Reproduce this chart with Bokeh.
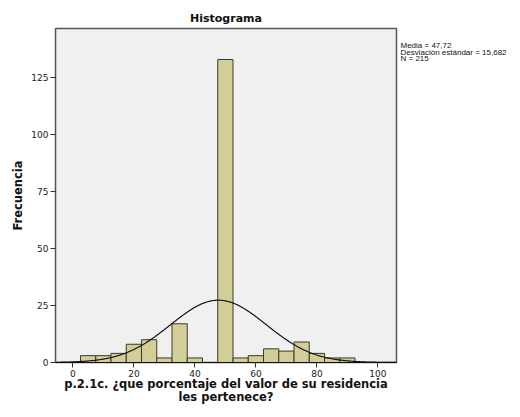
import numpy as np
from bokeh.plotting import figure
from bokeh.models import Range1d, FixedTicker, ColumnDataSource, LinearAxis
from bokeh.embed import file_html
from bokeh.resources import INLINE

# Data
bin_centers = [5, 10, 15, 20, 25, 30, 35, 40, 45, 50, 55, 60, 65, 70, 75, 80, 85, 90]
counts = [3, 3, 4, 8, 10, 2, 17, 2, 0, 133, 2, 3, 6, 5, 9, 4, 2, 2]
bin_width = 5
mean_val = 47.72
std_val = 15.682
n_val = 215
x_ticks = [0, 20, 40, 60, 80, 100]
y_ticks = [0, 25, 50, 75, 100, 125]
stats_lines = ["Media = 47,72", "Desviación estándar = 15,682", "N = 215"]

FONT = "DejaVu Sans"
X0, X1 = -5.7, 106.1
Y0, Y1 = 0, 146.6

p = figure(width=510, height=408,
           min_border_left=55, min_border_right=114, min_border_top=28, min_border_bottom=46,
           x_range=Range1d(X0, X1), y_range=Range1d(Y0, Y1),
           output_backend="svg", toolbar_location=None, title="Histograma")

p.title.align = "center"
p.title.text_font = FONT
p.title.text_font_size = "11px"
p.title.text_font_style = "bold"
p.title.text_color = "#111111"
p.title.standoff = 7

p.background_fill_color = "#F0F0F0"
p.border_fill_color = "white"
p.outline_line_color = "#555555"
p.outline_line_width = 1.5
p.xgrid.visible = False
p.ygrid.visible = False

bars = [(c, v) for c, v in zip(bin_centers, counts) if v > 0]
src = ColumnDataSource(dict(
    left=[c - bin_width / 2 for c, _ in bars],
    right=[c + bin_width / 2 for c, _ in bars],
    top=[v for _, v in bars],
    bottom=[0] * len(bars),
))
p.quad(left="left", right="right", top="top", bottom="bottom", source=src,
       fill_color="#D3CE97", line_color="#3a3a2a", line_width=1)

# Normal curve fitted to the stated mean / sd / N
xs = np.linspace(X0, X1, 400)
ys = n_val * bin_width / (std_val * np.sqrt(2 * np.pi)) * np.exp(-0.5 * ((xs - mean_val) / std_val) ** 2)
p.line(xs, ys, line_color="#111111", line_width=1.2)

for ax in (p.xaxis[0], p.yaxis[0]):
    ax.major_label_text_font = FONT
    ax.major_label_text_font_size = "9px"
    ax.major_label_text_color = "#222222"
    ax.axis_label_text_font = FONT
    ax.axis_label_text_font_size = "11.5px"
    ax.axis_label_text_font_style = "bold"
    ax.axis_label_text_color = "#111111"
    ax.minor_tick_line_color = None
    ax.major_tick_in = 0
    ax.major_tick_out = 5
    ax.major_tick_line_color = "#333333"

p.xaxis.axis_line_color = "#111111"
p.yaxis.axis_line_color = "#555555"
p.xaxis.ticker = FixedTicker(ticks=x_ticks)
p.yaxis.ticker = FixedTicker(ticks=y_ticks)
p.xaxis.axis_label = "p.2.1c. ¿que porcentaje del valor de su residencia\nles pertenece?"
p.yaxis.axis_label = "Frecuencia"
p.xaxis.axis_label_standoff = -3
p.yaxis.axis_label_standoff = 3
p.xaxis.axis_label_text_line_height = 0.95
p.xaxis.major_label_standoff = 2
p.yaxis.major_label_standoff = 2

# statistics box text on the right side (as an unadorned right axis)
p.extra_y_ranges = {"stats": Range1d(0, 334)}
stat_pos = [317, 310.5, 304]
stats_axis = LinearAxis(y_range_name="stats", ticker=FixedTicker(ticks=stat_pos),
                        major_label_overrides={k: t for k, t in zip(stat_pos, stats_lines)},
                        axis_line_color=None, major_tick_line_color=None,
                        minor_tick_line_color=None, major_tick_out=0, major_tick_in=0,
                        major_label_standoff=4, major_label_text_font="Liberation Sans",
                        major_label_text_font_size="8px", major_label_text_color="#111111")
p.add_layout(stats_axis, "right")

open("out.html", "w").write(file_html(p, INLINE))
